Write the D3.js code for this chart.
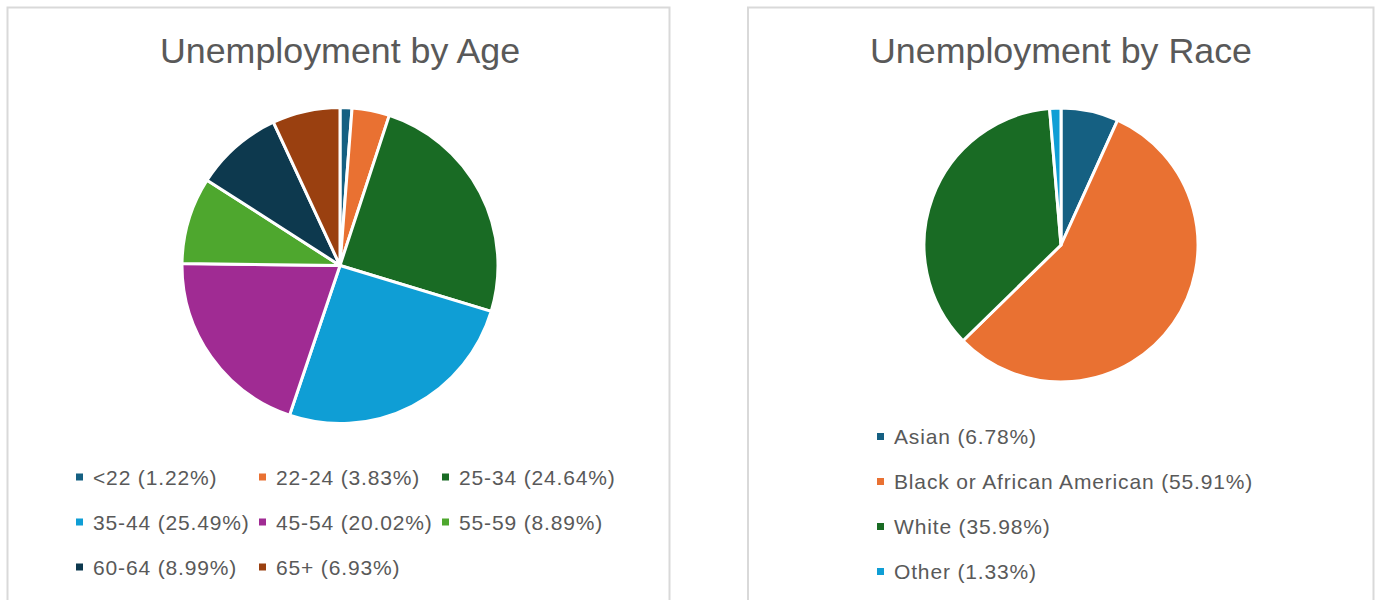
<!DOCTYPE html>
<html>
<head>
<meta charset="utf-8">
<script src="https://cdn.jsdelivr.net/npm/d3@7"></script>
<style>
  body { margin: 0; background: #fff; }
  text { font-family: 'Liberation Sans', Arial, sans-serif; fill: #595959; }
</style>
</head>
<body>
<script>
var width = 1380,
    height = 600;

// age chart
var ageLabels = ['<22', '22-24', '25-34', '35-44', '45-54', '55-59', '60-64', '65+'];
var ageValues = [1.22, 3.83, 24.64, 25.49, 20.02, 8.89, 8.99, 6.93];
var ageColors = ['#156082', '#e97132', '#196b24', '#0f9ed5', '#a02b93', '#4ea72e', '#0d394e', '#9a4010'];

// race chart
var raceLabels = ['Asian', 'Black or African American', 'White', 'Other'];
var raceValues = [6.78, 55.91, 35.98, 1.33];
var raceColors = ['#156082', '#e97132', '#196b24', '#0f9ed5'];

var svg = d3.select('body').append('svg')
    .attr('width', width)
    .attr('height', height);

function drawPanel(opts) {
    var g = svg.append('g');

    g.append('rect')
        .attr('x', opts.x0)
        .attr('y', 7.5)
        .attr('width', opts.x1 - opts.x0)
        .attr('height', 640)
        .attr('fill', '#fff')
        .attr('stroke', '#d9d9d9')
        .attr('stroke-width', 2);

    g.append('text')
        .attr('x', opts.cx)
        .attr('y', 63)
        .attr('text-anchor', 'middle')
        .style('font-size', '35.8px')
        .text(opts.title);

    var data = opts.labels.map(function(d, i) {
        return {label: d, value: opts.values[i], color: opts.colors[i]};
    });

    var pie = d3.pie()
        .sort(null)
        .value(function(d) { return d.value; });

    var arc = d3.arc()
        .innerRadius(0)
        .outerRadius(opts.r);

    g.append('g')
        .attr('transform', 'translate(' + opts.cx + ',' + opts.cy + ')')
        .selectAll('path')
        .data(pie(data))
        .enter()
            .append('path')
            .attr('d', arc)
            .attr('fill', function(d) { return d.data.color; })
            .attr('stroke', '#fff')
            .attr('stroke-width', 3)
            .attr('stroke-linejoin', 'round');

    var items = g.selectAll('g.legend')
        .data(data)
        .enter()
            .append('g')
            .attr('class', 'legend')
            .attr('transform', function(d, i) {
                var col = i % opts.cols,
                    row = Math.floor(i / opts.cols);
                return 'translate(' + (opts.lx + col * opts.colStep) + ',' + (opts.ly + row * opts.rowStep) + ')';
            });

    items.append('rect')
        .attr('x', 0)
        .attr('y', -3.5)
        .attr('width', 7)
        .attr('height', 7)
        .attr('fill', function(d) { return d.color; });

    items.append('text')
        .attr('x', 17)
        .attr('y', 7.5)
        .style('font-size', '21px')
        .style('letter-spacing', '0.85px')
        .text(function(d) { return d.label + ' (' + d.value.toFixed(2) + '%)'; });
}

drawPanel({
    x0: 7.5, x1: 669.5,
    title: 'Unemployment by Age',
    labels: ageLabels, values: ageValues, colors: ageColors,
    cx: 340, cy: 265.5, r: 158,
    lx: 76, ly: 477, cols: 3, colStep: 183, rowStep: 45
});

drawPanel({
    x0: 748, x1: 1373.5,
    title: 'Unemployment by Race',
    labels: raceLabels, values: raceValues, colors: raceColors,
    cx: 1061, cy: 245, r: 137,
    lx: 877, ly: 436.5, cols: 1, colStep: 0, rowStep: 45
});
</script>
</body>
</html>
